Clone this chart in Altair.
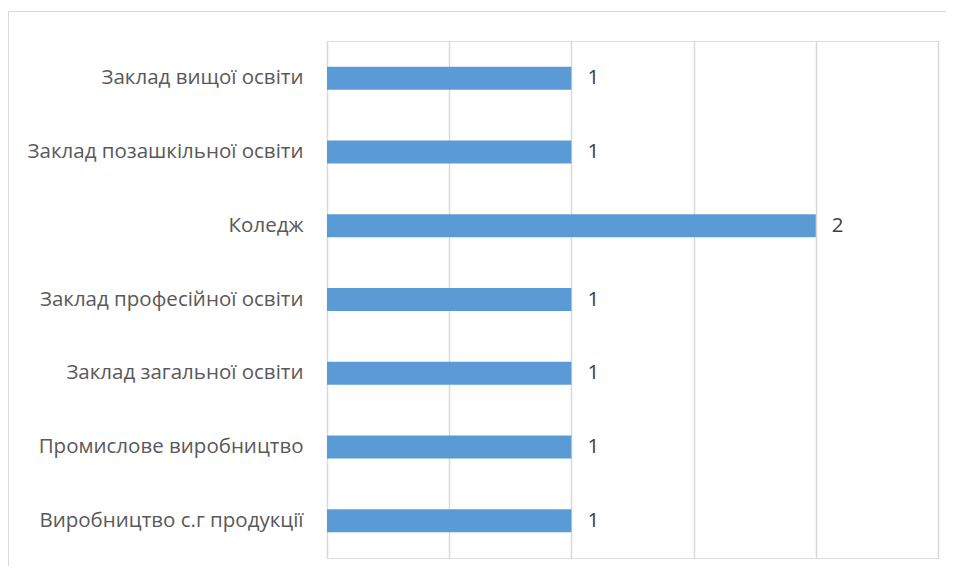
import altair as alt
import pandas as pd

categories = [
    "Заклад вищої освіти",
    "Заклад позашкільної освіти",
    "Коледж",
    "Заклад професійної освіти",
    "Заклад загальної освіти",
    "Промислове виробництво",
    "Виробництво с.г продукції",
]
values = [1, 1, 2, 1, 1, 1, 1]

df = pd.DataFrame({"cat": categories, "val": values})

FONT = "Open Sans"
FS = 20.5

y_enc = alt.Y(
    "cat:N",
    sort=categories,
    title=None,
    scale=alt.Scale(paddingInner=0.69, paddingOuter=0.35),
    axis=alt.Axis(
        domain=False, ticks=False, labelPadding=24, labelFontSize=FS,
        labelColor="#595959", labelFont=FONT, labelLimit=400, grid=False,
    ),
)
x_enc = alt.X(
    "val:Q",
    title=None,
    scale=alt.Scale(domain=[0, 2.5], nice=False),
    axis=alt.Axis(
        values=[0, 0.5, 1, 1.5, 2, 2.5], labels=False, ticks=False, domain=False,
        grid=True, gridColor="#d9d9d9", gridWidth=1.5,
    ),
)

one = pd.DataFrame({"a": [0]})
frame_top = alt.Chart(one).mark_rule(color="#d9d9d9", strokeWidth=1).encode(
    x=alt.value(-318.5), x2=alt.value(700), y=alt.value(-29.5)
)
frame_left = alt.Chart(one).mark_rule(color="#d9d9d9", strokeWidth=1).encode(
    x=alt.value(-318.5), y=alt.value(-29.5), y2=alt.value(700)
)

bars = alt.Chart(df).mark_bar(color="#5B9BD5").encode(y=y_enc, x=x_enc)

labels = alt.Chart(df).mark_text(
    align="left", baseline="middle", dx=16, font=FONT, fontSize=FS, color="#404040"
).encode(y=alt.Y("cat:N", sort=categories), x="val:Q", text="val:Q")

chart = alt.layer(frame_top, frame_left, bars, labels).properties(
    width=611, height=517,
    autosize=alt.AutoSizeParams(type="none"),
    padding={"left": 319, "top": 33, "right": 8, "bottom": 8},
).configure_view(strokeWidth=0, stroke="transparent").configure(background="white")

chart.save("out.html", embed_options={"renderer": "svg", "actions": False})
